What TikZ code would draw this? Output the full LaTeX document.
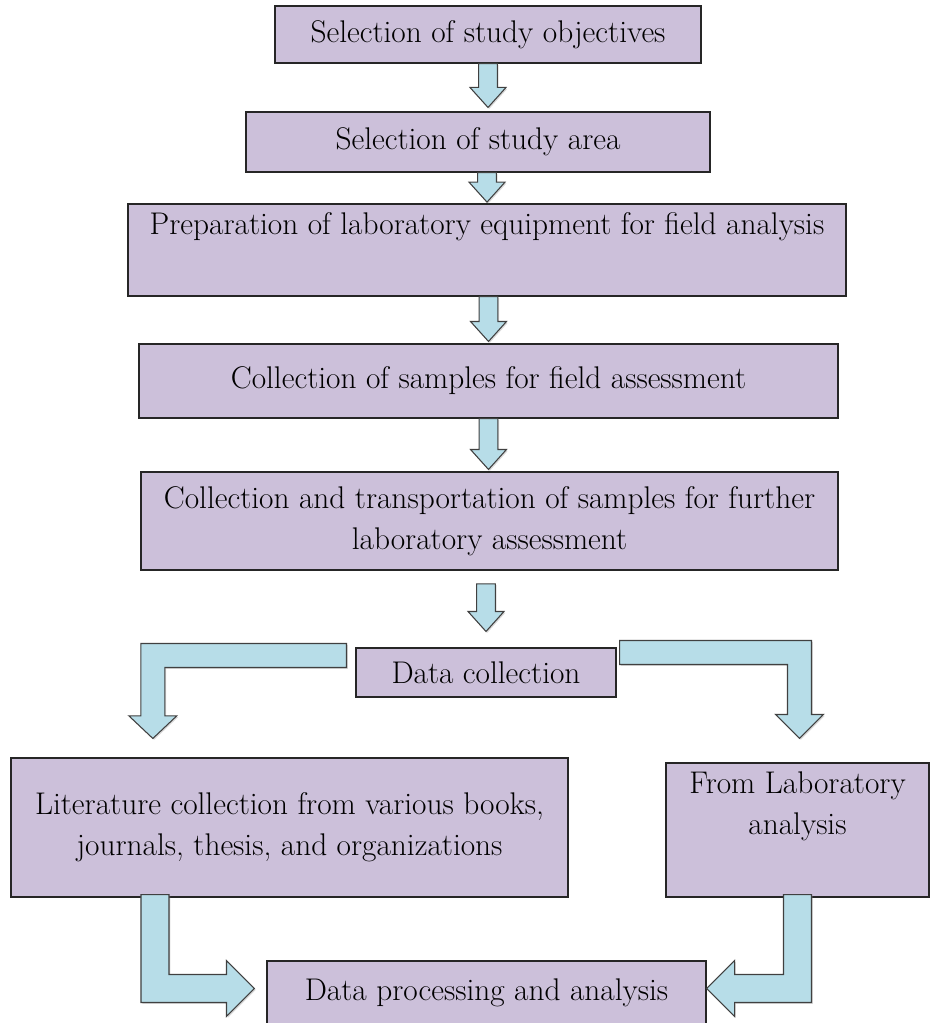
\documentclass[tikz,border=0pt]{standalone}
\usetikzlibrary{calc,shadows}

\definecolor{boxlilac}{RGB}{204,192,218}
\definecolor{arrowblue}{RGB}{183,221,232}

\tikzset{
  stepbox/.style={draw=black!85, fill=boxlilac, line width=0.8pt, align=center,
    inner sep=0pt, font=\fontsize{23.5}{31}\selectfont},
  blockarrow/.style={draw=black!75, fill=arrowblue, line width=0.8pt, line join=miter,
    drop shadow={shadow xshift=1pt, shadow yshift=-1pt, opacity=0.3}}
}

% straight block arrow: #1 start, #2 tip
\newcommand{\downblock}[2]{%
  \draw[blockarrow] let \p1=#1, \p2=#2 in
    (\x2-7pt,\y1) -- (\x2+7pt,\y1) -- (\x2+7pt,\y2+15pt) -- (\x2+13.5pt,\y2+15pt)
    -- (\x2,\y2) -- (\x2-13.5pt,\y2+15pt) -- (\x2-7pt,\y2+15pt) -- cycle;}

% elbow, sideways first then down: #1 start, #2 tip, #3 half shaft, #4 half head, #5 head length
\newcommand{\elbowdown}[5]{%
  \draw[blockarrow] let \p1=#1, \p2=#2, \n1={(\x2>\x1)*2-1} in
    (\x1,\y1+#3) -- (\x2+\n1*#3,\y1+#3) -- (\x2+\n1*#3,\y2+#5) -- (\x2+\n1*#4,\y2+#5)
    -- (\x2,\y2) -- (\x2-\n1*#4,\y2+#5) -- (\x2-\n1*#3,\y2+#5) -- (\x2-\n1*#3,\y1-#3)
    -- (\x1,\y1-#3) -- cycle;}

% elbow, down first then sideways
\newcommand{\elbowside}[5]{%
  \draw[blockarrow] let \p1=#1, \p2=#2, \n1={(\x2>\x1)*2-1} in
    (\x1-\n1*#3,\y1) -- (\x1-\n1*#3,\y2-#3) -- (\x2-\n1*#5,\y2-#3) -- (\x2-\n1*#5,\y2-#4)
    -- (\x2,\y2) -- (\x2-\n1*#5,\y2+#4) -- (\x2-\n1*#5,\y2+#3) -- (\x1+\n1*#3,\y2+#3)
    -- (\x1+\n1*#3,\y1) -- cycle;}

\begin{document}
\begin{tikzpicture}[x=0.75pt, y=-0.75pt]
    % page
    \useasboundingbox (0,0) rectangle (930,1023);
    \clip (0,0) rectangle (930,1023);

    % steps
    \node[stepbox, minimum width=319.5pt, minimum height=42.75pt] (objectives) at (488,34.5) {Selection of study objectives};
    \node[stepbox, minimum width=348pt, minimum height=45pt] (area) at (478,142) {Selection of study area};
    \node[stepbox, minimum width=538.5pt, minimum height=69pt] (prep) at (487,250) {Preparation of laboratory equipment for field analysis\\ \strut};
    \node[stepbox, minimum width=524.25pt, minimum height=55.5pt] (field) at (488.5,381) {Collection of samples for field assessment};
    \node[stepbox, minimum width=522.75pt, minimum height=73.5pt] (transport) at (489.5,521) {Collection and transportation of samples for further\\laboratory assessment};
    \node[stepbox, minimum width=195pt, minimum height=36.75pt] (collect) at (486,672.5) {Data collection};

    %% branches
    \node[stepbox, minimum width=417.75pt, minimum height=104.25pt] (literature) at (289.5,827.5) {Literature collection from various books,\\journals, thesis, and organizations};
    \node[stepbox, minimum width=197.25pt, minimum height=100.5pt] (lab) at (797.5,830) {From Laboratory\\analysis\\ \strut};
    \node[stepbox, minimum width=329.25pt, minimum height=48pt] (processing) at (486.5,993) {Data processing and analysis};

    % arrows
    \downblock{(objectives.south)}{([yshift=3pt]area.north -| objectives.south)}
    \downblock{(area.south -| prep.north)}{([yshift=1pt]prep.north)}
    \downblock{(prep.south -| field.north)}{([yshift=1.5pt]field.north)}
    \downblock{(field.south)}{([yshift=1.5pt]transport.north -| field.south)}
    \downblock{([yshift=-10pt]transport.south -| collect.north)}{([yshift=12pt]collect.north)}

    %% split
    \elbowdown{([xshift=-6.75pt,yshift=-6pt]collect.north west)}{([xshift=-102.5pt,yshift=14.25pt]literature.north)}{9pt}{18pt}{17pt}
    \elbowdown{([xshift=2.25pt,yshift=-3.75pt]collect.north east)}{([xshift=1.5pt,yshift=18pt]lab.north)}{9pt}{18pt}{18pt}

    %% join
    \elbowside{([xshift=-100.9pt,yshift=2.25pt]literature.south)}{([xshift=-9pt,yshift=-21pt]processing.north west)}{10.5pt}{21pt}{21pt}
    \elbowside{([yshift=2.25pt]lab.south)}{([yshift=-21pt]processing.north east)}{10.5pt}{21pt}{21pt}
\end{tikzpicture}
\end{document}
